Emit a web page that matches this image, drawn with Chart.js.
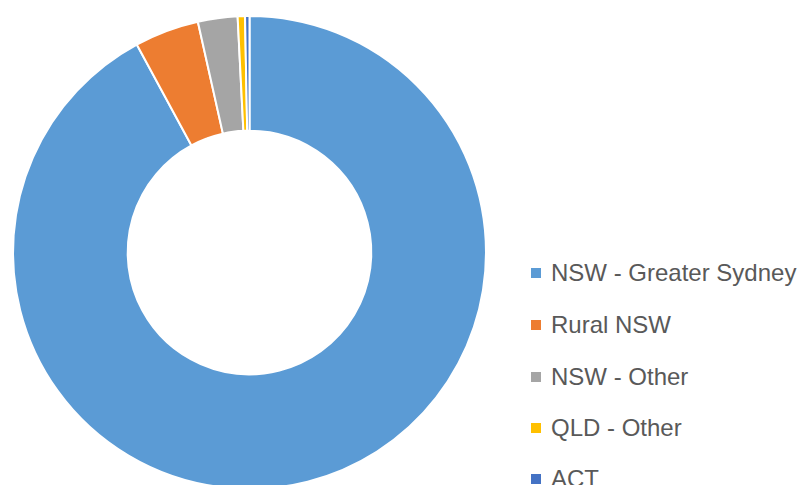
<!DOCTYPE html>
<html>
<head>
<meta charset="utf-8">
<script src="https://cdn.jsdelivr.net/npm/chart.js@4/dist/chart.umd.min.js"></script>
<style>
  html, body { margin: 0; padding: 0; background: #fff; overflow: hidden; width: 804px; height: 485px; }
  #wrap { position: absolute; left: 0; top: 0; width: 500px; height: 520px; }
  #legend { position: absolute; left: 531px; top: 0; font-family: "Liberation Sans", Arial, sans-serif; font-size: 24px; color: #595959; }
  .item { position: absolute; left: 0; white-space: nowrap; height: 28px; line-height: 28px; }
  .box { position: absolute; left: 0; top: 9px; width: 10px; height: 10px; }
  .lbl { position: absolute; left: 20px; top: 0; }
</style>
</head>
<body>
<div id="wrap"><canvas id="c"></canvas></div>
<div id="legend"></div>
<script>
const categories = ["NSW - Greater Sydney", "Rural NSW", "NSW - Other", "QLD - Other", "ACT"];
const values = [92.0, 4.4, 2.7, 0.5, 0.3];
const colors = ["#5B9BD5", "#ED7D31", "#A5A5A5", "#FFC000", "#4472C4"];

new Chart(document.getElementById('c'), {
  type: 'doughnut',
  data: {
    labels: categories,
    datasets: [{
      data: values,
      backgroundColor: colors,
      borderColor: '#ffffff',
      borderWidth: 2
    }]
  },
  options: {
    responsive: true,
    maintainAspectRatio: false,
    animation: false,
    cutout: '51.5%',
    layout: { padding: { left: 12, top: 15, right: 13, bottom: 30 } },
    plugins: { legend: { display: false }, tooltip: { enabled: false } }
  }
});

const legend = document.getElementById('legend');
const rowY = [273, 325, 377, 428, 479];
categories.forEach((name, i) => {
  const it = document.createElement('div');
  it.className = 'item';
  it.style.top = (rowY[i] - 14) + 'px';
  const b = document.createElement('div');
  b.className = 'box';
  b.style.background = colors[i];
  const t = document.createElement('div');
  t.className = 'lbl';
  t.textContent = name;
  it.appendChild(b); it.appendChild(t);
  legend.appendChild(it);
});
</script>
</body>
</html>
